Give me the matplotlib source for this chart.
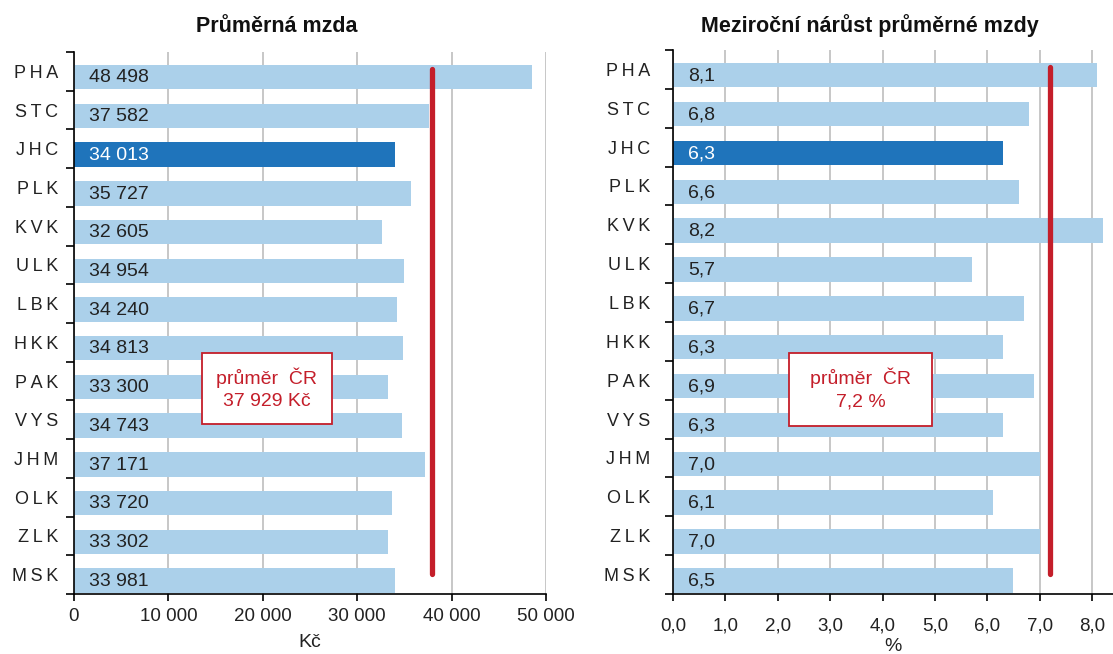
import matplotlib
matplotlib.use("Agg")
import matplotlib.pyplot as plt
from matplotlib import font_manager
from matplotlib.patches import Rectangle

regions = ["PHA", "STC", "JHC", "PLK", "KVK", "ULK", "LBK", "HKK",
           "PAK", "VYS", "JHM", "OLK", "ZLK", "MSK"]
wage = [48498, 37582, 34013, 35727, 32605, 34954, 34240, 34813,
        33300, 34743, 37171, 33720, 33302, 33981]
growth = [8.1, 6.8, 6.3, 6.6, 8.2, 5.7, 6.7, 6.3, 6.9, 6.3, 7.0, 6.1, 7.0, 6.5]
avg_wage = 37929
avg_growth = 7.2
highlight = "JHC"

wage_ticks = [0, 10000, 20000, 30000, 40000, 50000]
growth_ticks = [0, 1, 2, 3, 4, 5, 6, 7, 8]

names = {f.name for f in font_manager.fontManager.ttflist}
narrow = "Liberation Sans Narrow" if "Liberation Sans Narrow" in names else "Liberation Sans"
plt.rcParams['font.family'] = ['Liberation Sans', 'DejaVu Sans']

light = '#abd0ea'
dark = '#1f74bb'
red = '#c41e2a'
grid_c = '#c3c3c3'
txt = '#222222'

W, H = 1113, 654
fig = plt.figure(figsize=(W / 100, H / 100), dpi=100)


def px_axes(l, t, r, b):
    return fig.add_axes([l / W, 1 - b / H, (r - l) / W, (b - t) / H])


def fmt_wage(v):
    return f"{v:,.0f}".replace(",", " ")


def fmt_pct(v):
    return f"{v:.1f}".replace(".", ",")


def spaced(s):
    # category codes are letter-spaced in the original
    return "\u2009".join(s)


def panel(ax, vals, fmt, ticks, tick_fmt, xmax, avg, xlabel, ylab_pad, xpad, xlabpad):
    n = len(regions)
    ys = list(range(n))
    cols = [dark if r == highlight else light for r in regions]
    ax.barh([y + 0.15 for y in ys], vals, height=0.63, color=cols, zorder=2)
    for y, v, r in zip(ys, vals, regions):
        ax.annotate(fmt(v), xy=(0, y + 0.17), xytext=(11, 0), textcoords='offset points',
                    va='center', ha='left', fontsize=14,
                    color='white' if r == highlight else txt, zorder=4)
    ax.plot([avg, avg], [-0.05, n - 1.02], color=red, lw=3.8,
            solid_capstyle='round', zorder=3)
    ax.set_ylim(n - 0.5, -0.5)
    ax.set_xlim(0, xmax)
    ax.set_yticks(ys)
    ax.set_yticklabels([spaced(r) for r in regions], fontsize=13, color=txt)
    ax.set_yticks([y - 0.5 for y in range(n + 1)], minor=True)
    ax.tick_params(axis='y', which='major', length=0, pad=ylab_pad)
    ax.tick_params(axis='y', which='minor', length=6, width=1.2, direction='out')
    ax.set_xticks(ticks)
    ax.set_xticklabels([tick_fmt(t) for t in ticks], fontsize=13.5, color=txt)
    ax.tick_params(axis='x', length=5, width=1.2, direction='out', pad=xpad)
    ax.xaxis.grid(True, color=grid_c, lw=1.3, zorder=0)
    ax.set_axisbelow(True)
    for s in ['top', 'right']:
        ax.spines[s].set_visible(False)
    ax.spines['left'].set_linewidth(1.2)
    ax.spines['bottom'].set_linewidth(1.2)
    ax.set_xlabel(xlabel, fontsize=14, color=txt, labelpad=xlabpad)


ax1 = px_axes(74, 52, 546, 594)
panel(ax1, wage, fmt_wage, wage_ticks, fmt_wage, 50000, avg_wage, "Kč", 11.5, 5, 6.5)
ax2 = px_axes(673, 50, W, 594)
panel(ax2, growth, fmt_pct, growth_ticks, fmt_pct, 8.4, avg_growth, "%", 16.5, 12, 2.5)

fig.text(277 / W, 1 - 26 / H, "Průměrná mzda", ha='center', va='center',
         fontsize=15.5, fontweight='bold', family=[narrow, 'DejaVu Sans'], color='#111111')
fig.text(870 / W, 1 - 26 / H, "Meziroční nárůst průměrné mzdy", ha='center', va='center',
         fontsize=15.5, fontweight='bold', family=[narrow, 'DejaVu Sans'], color='#111111')


def note(l, t, r, b, line2):
    fig.patches.append(Rectangle((l / W, 1 - b / H), (r - l) / W, (b - t) / H,
                                 transform=fig.transFigure, facecolor='white',
                                 edgecolor=red, lw=1.3, zorder=5))
    cx = (l + r) / 2 / W
    fig.text(cx, 1 - (t + 25) / H, "průměr  ČR", ha='center', va='center',
             fontsize=14, color=red, zorder=6)
    fig.text(cx, 1 - (t + 49) / H, line2, ha='center', va='center',
             fontsize=14, color=red, zorder=6)


note(202, 353, 332, 424, f"{fmt_wage(avg_wage)} Kč")
note(789, 353, 932, 426, f"{fmt_pct(avg_growth)} %")

fig.savefig("out.png", dpi=100)
